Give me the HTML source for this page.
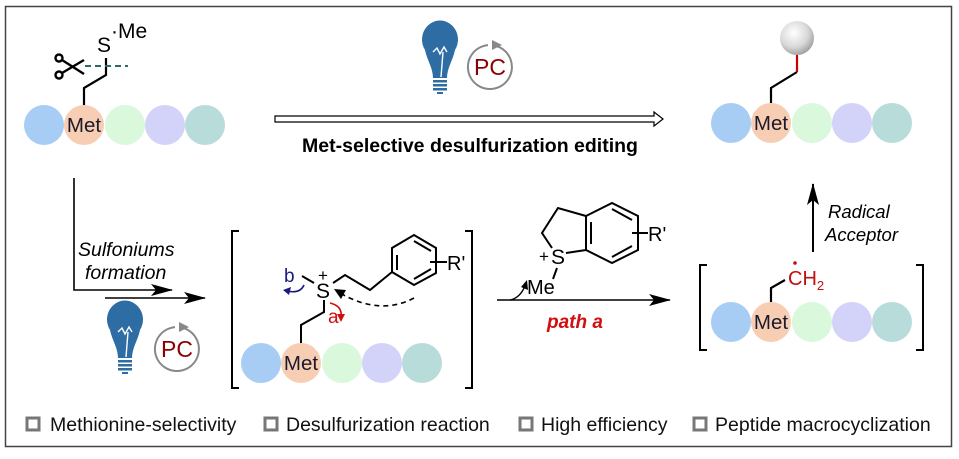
<!DOCTYPE html>
<html><head><meta charset="utf-8"><style>
html,body{margin:0;padding:0;background:#fff}
svg{display:block}
text{font-family:"Liberation Sans",Arial,sans-serif}
</style></head><body>
<svg width="959" height="459" viewBox="0 0 959 459" xmlns="http://www.w3.org/2000/svg">
<defs>
<radialGradient id="ball" cx="0.4" cy="0.35" r="0.7"><stop offset="0" stop-color="#fff"/><stop offset="0.6" stop-color="#d8d8d8"/><stop offset="1" stop-color="#9a9a9a"/></radialGradient>
<marker id="ahb" markerWidth="22" markerHeight="12" refX="21" refY="6" orient="auto" markerUnits="userSpaceOnUse"><path d="M0,0 L22,6 L0,12 L5,6z" fill="#000"/></marker>
<g id="bulb"><path d="M-15,-10 A18,19 0 1 1 15,-10 C13,0 7,8 7,18 L-7,18 C-7,8 -13,0 -15,-10Z" fill="#2e6ca4"/><path d="M-7,-8 L-3,-12 L0,-6 L4,-13 L7,-8 M3,-8 L1,17" stroke="#fff" stroke-width="1.4" fill="none"/><rect x="-7" y="20" width="14" height="2.5" fill="#2e6ca4"/><rect x="-7" y="24" width="14" height="2.5" fill="#2e6ca4"/><rect x="-7" y="28" width="14" height="2.5" fill="#2e6ca4"/><rect x="-3" y="32" width="6" height="2" fill="#2e6ca4"/></g>
<g id="pc"><path d="M4,-21.6 A22,22 0 1 1 -2,-21.9" stroke="#888" stroke-width="2" fill="none"/><path d="M2,-27 L12,-22 L2,-17z" fill="#888"/><text x="0" y="8" font-size="23" fill="#8b0000" text-anchor="middle">PC</text></g>
<g id="pep"><circle cx="-40" cy="0" r="20" fill="#a8cdf5"/><circle cx="0" cy="0" r="20" fill="#f7cdb4"/><circle cx="41" cy="0" r="20" fill="#d9f8dc"/><circle cx="81" cy="0" r="20" fill="#d3d3fa"/><circle cx="121" cy="0" r="20" fill="#b8dcda"/><text x="0" y="7" font-size="20.5" fill="#1a1a2a" text-anchor="middle">Met</text></g>
</defs>
<rect x="5.5" y="6.5" width="946" height="440" fill="none" stroke="#444" stroke-width="1.5"/>

<!-- top-left -->
<use href="#pep" x="84" y="125"/>
<path d="M84,105 V88 L106,75 V58" stroke="#000" stroke-width="2.2" fill="none"/>
<line x1="85" y1="66" x2="128" y2="66" stroke="#2e6a6a" stroke-width="2" stroke-dasharray="6,4"/>
<text x="97" y="52" font-size="21">S</text><text x="111" y="38" font-size="21">·Me</text>
<g stroke="#000" stroke-width="2.4" fill="none"><path d="M84,60 L62,73"/><path d="M84,74 L62,60"/><circle cx="59" cy="58" r="3.5"/><circle cx="59" cy="75" r="3.5"/></g>

<!-- top center -->
<use href="#bulb" x="440" y="60"/>
<use href="#pc" x="490" y="67"/>
<path d="M275,116 H654 V112 L663,119 L654,126 V122 H275Z" fill="#fff" stroke="#000" stroke-width="1.2"/>
<text x="470" y="152" font-size="19.5" font-weight="bold" text-anchor="middle">Met-selective desulfurization editing</text>

<!-- top-right -->
<use href="#pep" x="771" y="123"/>
<path d="M771,103 V88 L797,72" stroke="#000" stroke-width="2.2" fill="none"/>
<path d="M797,72 V55" stroke="#c00" stroke-width="2.2"/>
<circle cx="797" cy="38" r="17" fill="url(#ball)"/>

<!-- left flow -->
<path d="M74,178 V290 H172" stroke="#000" stroke-width="1.6" fill="none" marker-end="url(#ahb)"/>
<line x1="105" y1="298" x2="205" y2="298" stroke="#000" stroke-width="1.6" marker-end="url(#ahb)"/>
<text x="78" y="256" font-size="19.5" font-style="italic">Sulfoniums</text>
<text x="85" y="279" font-size="19.5" font-style="italic">formation</text>
<use href="#bulb" x="125" y="340"/>
<use href="#pc" x="177" y="349"/>

<!-- middle bracket -->
<path d="M239,231 H232 V388 H239 M465,231 H472 V388 H465" stroke="#000" stroke-width="2" fill="none"/>
<use href="#pep" x="301" y="363"/>
<path d="M301,343 V325 L324,312 V300" stroke="#000" stroke-width="2" fill="none"/>
<text x="316" y="298" font-size="21">S</text><text x="318" y="281" font-size="17">+</text>
<path d="M302,276 L314,283" stroke="#000" stroke-width="2"/>
<path d="M333,283 L345,275 L370,290 L392,272" stroke="#000" stroke-width="2" fill="none"/>
<path d="M392,272 L392,248 L414,235 L436,248 L436,273 L414,285Z M397,255 L397,270 M414,241 L431,251 M414,279 L431,269" stroke="#000" stroke-width="2" fill="none"/>
<line x1="430" y1="262" x2="447" y2="262" stroke="#000" stroke-width="2"/>
<text x="447" y="270" font-size="20">R'</text>
<text x="284" y="282" font-size="19" fill="#1a1a80">b</text>
<path d="M304,285 Q300,294 287,291" stroke="#1a1a80" stroke-width="1.6" fill="none"/><path d="M283,290 L291,287 L289,295z" fill="#1a1a80"/>
<text x="328" y="323" font-size="19" fill="#d01010">a</text>
<path d="M330,303 Q343,306 341,318" stroke="#d01010" stroke-width="1.6" fill="none"/><path d="M341,322 L337,314 L345,314z" fill="#d01010"/>
<path d="M414,298 Q380,316 340,293" stroke="#000" stroke-width="1.6" stroke-dasharray="5,4" fill="none"/><path d="M334,289 L346,290 L341,299z" fill="#000"/>

<!-- middle arrow -->
<line x1="497" y1="300" x2="670" y2="300" stroke="#000" stroke-width="1.6" marker-end="url(#ahb)"/>
<path d="M510,300 Q520,298 525,286" stroke="#000" stroke-width="1.4" fill="none"/><path d="M527,280 L528,290 L521,287z" fill="#000"/>
<text x="547" y="328" font-size="19" font-weight="bold" font-style="italic" fill="#d01010">path a</text>
<path d="M586,216 L558,208 L542,233 L552,248 M566,253 L586,250 M586,216 L612,203 L638,216 L638,250 L612,263 L586,250Z M591,222 L591,244 M612,209 L632,220 M612,257 L632,246" stroke="#000" stroke-width="2" fill="none"/>
<line x1="632" y1="233" x2="648" y2="233" stroke="#000" stroke-width="2"/>
<text x="648" y="241" font-size="20">R'</text>
<text x="551" y="264" font-size="21">S</text><text x="539" y="262" font-size="17">+</text>
<path d="M557,268 L553,279" stroke="#000" stroke-width="2"/>
<text x="527" y="294" font-size="20">Me</text>

<!-- bottom right -->
<path d="M707,265 H700 V350 H707 M916,265 H923 V350 H916" stroke="#000" stroke-width="2" fill="none"/>
<use href="#pep" x="771" y="322"/>
<path d="M771,302 V288 L785,280" stroke="#000" stroke-width="2.2" fill="none"/>
<text x="788" y="285" font-size="20" fill="#c01010">CH<tspan font-size="13" dy="5">2</tspan></text>
<circle cx="795" cy="263" r="1.8" fill="#c01010"/>
<line x1="813" y1="252" x2="813" y2="184" stroke="#000" stroke-width="2" marker-end="url(#ahb)"/>
<text x="828" y="218" font-size="18.5" font-style="italic">Radical</text>
<text x="825" y="241" font-size="18.5" font-style="italic">Acceptor</text>

<!-- legend -->
<g fill="none" stroke="#777" stroke-width="3">
<rect x="27" y="418" width="12" height="12"/><rect x="265" y="418" width="12" height="12"/><rect x="520" y="418" width="12" height="12"/><rect x="694" y="418" width="12" height="12"/></g>
<g font-size="19.5" fill="#111">
<text x="50" y="431">Methionine-selectivity</text>
<text x="286" y="431">Desulfurization reaction</text>
<text x="541" y="431">High efficiency</text>
<text x="715" y="431">Peptide macrocyclization</text></g>
</svg>
</body></html>
